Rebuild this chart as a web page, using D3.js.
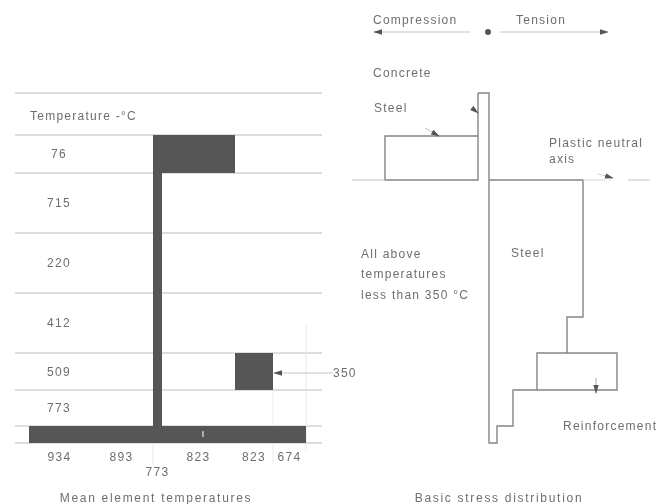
<!DOCTYPE html>
<html>
<head>
<meta charset="utf-8">
<script src="https://cdn.jsdelivr.net/npm/d3@7"></script>
<style>
html, body { margin: 0; padding: 0; background: #fff; }
svg { display: block; filter: blur(0.6px); }
text { font-family: "Liberation Sans", sans-serif; font-size: 12px; fill: #6e6e6e; letter-spacing: 1.25px; }
text.caption { letter-spacing: 1.7px; }
</style>
</head>
<body>
<svg width="670" height="504"></svg>
<script>
// element section (figure units)
var rowEdges = [0, 42, 80, 140, 200, 260, 297, 333, 350];
var rowLabels = ["76", "715", "220", "412", "509", "773"];
var colEdges = [0, 61, 124, 133, 206, 244, 277];
var colLabels = ["934", "893", "773", "823", "823", "674"];

var barStart = [124, 124, 206, 0];
var barEnd = [206, 133, 244, 277];
var barTop = [42, 42, 260, 333];
var barBottom = [80, 333, 297, 350];

// stress block, stress measured from the zero line
var neutralDepth = 87;
var mainStress = [-11, 0, 0, 8, 8, 24, 24, 128, 128, 48, 48];
var mainDepth = [0, 0, 350, 350, 333, 333, 297, 297, 260, 260, 297];
var tensionStress = [78, 78, 94, 94, 0];
var tensionDepth = [260, 224, 224, 87, 87];
var compressionStress = [-11, -11, -104, -104, -11];
var compressionDepth = [0, 87, 87, 43, 43];

var svg = d3.select("svg");

var depth = d3.scaleLinear().domain([0, 350]).range([93, 443]);
var sectionX = d3.scaleLinear().domain([0, 277]).range([29, 306]);
var stressX = d3.scaleLinear().domain([-104, 128]).range([385, 617]);

var defs = svg.append("defs");
defs.append("marker")
    .attr("id", "head")
    .attr("viewBox", "0 0 10 6")
    .attr("refX", 9)
    .attr("refY", 3)
    .attr("markerUnits", "userSpaceOnUse")
    .attr("markerWidth", 9)
    .attr("markerHeight", 5.4)
    .attr("orient", "auto-start-reverse")
    .append("path")
    .attr("d", "M0,0L10,3L0,6Z")
    .attr("fill", "#555");

function label(x, y, str, anchor) {
    return svg.append("text")
        .attr("x", x)
        .attr("y", y)
        .attr("text-anchor", anchor || "start")
        .text(str);
}

function leader(x1, y1, x2, y2, colour) {
    return svg.append("line")
        .attr("x1", x1).attr("y1", y1)
        .attr("x2", x2).attr("y2", y2)
        .attr("stroke", colour || "#999")
        .attr("stroke-width", 1)
        .attr("marker-end", "url(#head)");
}

// row rules
svg.append("g").selectAll("line")
    .data(rowEdges)
    .enter().append("line")
    .attr("x1", 15)
    .attr("x2", 322)
    .attr("y1", function (d) { return depth(d); })
    .attr("y2", function (d) { return depth(d); })
    .attr("stroke", "#bcbcbc")
    .attr("stroke-width", 1);

// faint column guides
svg.append("line")
    .attr("x1", sectionX(277)).attr("x2", sectionX(277))
    .attr("y1", 325).attr("y2", 450)
    .attr("stroke", "#e6e6e6");
svg.append("line")
    .attr("x1", sectionX(244)).attr("x2", sectionX(244))
    .attr("y1", depth(297)).attr("y2", 465)
    .attr("stroke", "#ececec");
svg.append("line")
    .attr("x1", sectionX(124)).attr("x2", sectionX(124))
    .attr("y1", depth(350)).attr("y2", 465)
    .attr("stroke", "#e6e6e6");

// hot / cool zones
svg.append("g").selectAll("rect")
    .data(d3.range(barStart.length))
    .enter().append("rect")
    .attr("x", function (i) { return sectionX(barStart[i]); })
    .attr("y", function (i) { return depth(barTop[i]); })
    .attr("width", function (i) { return sectionX(barEnd[i]) - sectionX(barStart[i]); })
    .attr("height", function (i) { return depth(barBottom[i]) - depth(barTop[i]); })
    .attr("fill", "#565656");

svg.append("line")
    .attr("x1", 203).attr("x2", 203)
    .attr("y1", 431).attr("y2", 437)
    .attr("stroke", "#ccc")
    .attr("stroke-width", 1.5);

// row and column temperatures sit in the middle of their cell
svg.append("g").selectAll("text")
    .data(rowLabels)
    .enter().append("text")
    .attr("x", 59)
    .attr("y", function (d, i) { return depth((rowEdges[i + 1] + rowEdges[i + 2]) / 2); })
    .attr("dy", ".36em")
    .attr("text-anchor", "middle")
    .text(function (d) { return d; });

svg.append("g").selectAll("text")
    .data(colLabels)
    .enter().append("text")
    .attr("x", function (d, i) { return sectionX((colEdges[i] + colEdges[i + 1]) / 2); })
    .attr("y", function (d, i) { return i == 2 ? 476 : 461; })
    .attr("text-anchor", "middle")
    .text(function (d) { return d; });

label(30, 120, "Temperature -\u00B0C");
label(156, 502, "Mean element temperatures", "middle").attr("class", "caption");

leader(333, 373, sectionX(244) + 1, 373, "#c4c4c4");
label(333, 377, "350");

// stress diagram
var line = d3.line()
    .x(function (d) { return stressX(d[0]); })
    .y(function (d) { return depth(d[1]); });

[[mainStress, mainDepth], [tensionStress, tensionDepth], [compressionStress, compressionDepth]].forEach(function (s) {
    svg.append("path")
        .attr("d", line(d3.zip(s[0], s[1])))
        .attr("fill", "none")
        .attr("stroke", "#858585")
        .attr("stroke-width", 1.4);
});

// plastic neutral axis, dashed either side of the block
svg.append("line")
    .attr("x1", 352).attr("x2", stressX(-104))
    .attr("y1", depth(neutralDepth)).attr("y2", depth(neutralDepth))
    .attr("stroke", "#c4c4c4");
svg.append("line")
    .attr("x1", stressX(94)).attr("x2", 611)
    .attr("y1", depth(neutralDepth)).attr("y2", depth(neutralDepth))
    .attr("stroke", "#d6d6d6")
    .attr("stroke-dasharray", "22 4");
svg.append("line")
    .attr("x1", 628).attr("x2", 650)
    .attr("y1", depth(neutralDepth)).attr("y2", depth(neutralDepth))
    .attr("stroke", "#c4c4c4");

// compression / tension arrows
leader(470, 32, 374, 32, "#c4c4c4");
leader(500, 32, 608, 32, "#c4c4c4");
svg.append("circle")
    .attr("cx", stressX(-1))
    .attr("cy", 32)
    .attr("r", 3)
    .attr("fill", "#555");

leader(425, 128, 439, 136, "#c4c4c4");
leader(472, 108, 478, 113, "#aaa");
leader(598, 174, 613, 178, "#d0d0d0");
leader(596, 378, 596, 393, "#aaa");

label(373, 24, "Compression");
label(516, 24, "Tension");
label(373, 77, "Concrete");
label(374, 112, "Steel");
label(549, 147, "Plastic neutral");
label(549, 163, "axis");
label(511, 257, "Steel");
label(361, 258, "All above");
label(361, 278, "temperatures");
label(361, 299, "less than 350 \u00B0C");
label(563, 430, "Reinforcement");
label(499, 502, "Basic stress distribution", "middle").attr("class", "caption");
</script>
</body>
</html>
